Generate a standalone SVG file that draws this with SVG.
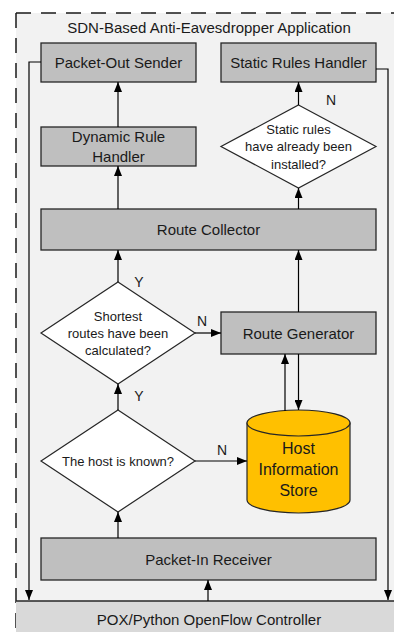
<svg xmlns="http://www.w3.org/2000/svg" width="394" height="632" viewBox="0 0 394 632">
  <defs>
    <marker id="arrow" markerUnits="userSpaceOnUse" markerWidth="10" markerHeight="8" refX="10" refY="4" orient="auto">
      <path d="M0,0 L10,4 L0,8 Z" fill="#000"/>
    </marker>
    <style>
      text { font-family: "Liberation Sans", Arial, sans-serif; fill: #1a1a1a; text-anchor: middle; }
      .box { fill: #bfbfbf; stroke: #262626; stroke-width: 1.3; }
      .dia { fill: #ffffff; stroke: #262626; stroke-width: 1.2; }
      .lbl { font-size: 15px; }
      .small { font-size: 13px; }
      .yn { font-size: 14px; }
      .wire { fill: none; stroke: #000; stroke-width: 1.2; marker-end: url(#arrow); }
    </style>
  </defs>

  <!-- application boundary -->
  <rect x="16" y="13" width="378" height="619" fill="#f2f2f2"/>
  <path d="M16,13 H394 M16,13 V632" fill="none" stroke="#1a1a1a" stroke-width="1.5" stroke-dasharray="15,10"/>
  <text x="209" y="33" class="lbl">SDN-Based Anti-Eavesdropper Application</text>

  <!-- controller -->
  <g id="controller">
    <rect x="16" y="601" width="378" height="31" fill="#d9d9d9"/>
    <line x1="16" y1="601" x2="394" y2="601" stroke="#262626" stroke-width="1.3"/>
    <text x="209" y="625" class="lbl">POX/Python OpenFlow Controller</text>
  </g>

  <g id="packet-out-sender">
    <rect x="41" y="43" width="155" height="39" class="box"/>
    <text x="118.5" y="67.5" class="lbl">Packet-Out Sender</text>
  </g>

  <g id="static-rules-handler">
    <rect x="221" y="43" width="155" height="39" class="box"/>
    <text x="298.5" y="67.5" class="lbl">Static Rules Handler</text>
  </g>

  <g id="dynamic-rule-handler">
    <rect x="41" y="127" width="155" height="39" class="box"/>
    <text x="118.5" y="142" class="lbl">Dynamic Rule</text>
    <text x="118.5" y="162" class="lbl">Handler</text>
  </g>

  <g id="static-rules-check">
    <polygon points="298.5,105 376,146.5 298.5,188 221,146.5" class="dia"/>
    <text x="298.5" y="134" class="small">Static rules</text>
    <text x="298.5" y="151" class="small">have already been</text>
    <text x="298.5" y="169" class="small">installed?</text>
  </g>

  <g id="route-collector">
    <rect x="41" y="209" width="335" height="41" class="box"/>
    <text x="208.5" y="235" class="lbl">Route Collector</text>
  </g>

  <g id="routes-check">
    <polygon points="118,282 195,333 118,384 41,333" class="dia"/>
    <text x="118" y="321" class="small">Shortest</text>
    <text x="118" y="338" class="small">routes have been</text>
    <text x="118" y="355" class="small">calculated?</text>
  </g>

  <g id="route-generator">
    <rect x="221" y="312" width="155" height="42" class="box"/>
    <text x="298.5" y="338.5" class="lbl">Route Generator</text>
  </g>

  <g id="host-check">
    <polygon points="118,410 195,461 118,512 41,461" class="dia"/>
    <text x="118" y="466" class="small">The host is known?</text>
  </g>

  <g id="host-information-store">
    <path d="M247,423 V500 A51.5,13 0 0 0 350,500 V423 Z" fill="#ffc000" stroke="#262626" stroke-width="1.2"/>
    <ellipse cx="298.5" cy="423" rx="51.5" ry="13" fill="#ffc000" stroke="#262626" stroke-width="1.2"/>
    <text x="298.5" y="454" font-size="16px">Host</text>
    <text x="298.5" y="475" font-size="16px">Information</text>
    <text x="298.5" y="496" font-size="16px">Store</text>
  </g>

  <g id="packet-in-receiver">
    <rect x="41" y="538" width="335" height="42" class="box"/>
    <text x="208.5" y="564.5" class="lbl">Packet-In Receiver</text>
  </g>

  <!-- connectors -->
  <g id="connectors">
    <polyline points="41,62 29,62 29,600" class="wire"/>
    <polyline points="376,69 388,69 388,600" class="wire"/>
    <line x1="118" y1="127" x2="118" y2="82" class="wire"/>
    <line x1="118" y1="209" x2="118" y2="166" class="wire"/>
    <line x1="298.5" y1="209" x2="298.5" y2="188" class="wire"/>
    <line x1="298.5" y1="105" x2="298.5" y2="82" class="wire"/>
    <line x1="118" y1="282" x2="118" y2="250" class="wire"/>
    <line x1="195" y1="333" x2="221" y2="333" class="wire"/>
    <line x1="298.5" y1="312" x2="298.5" y2="250" class="wire"/>
    <line x1="285" y1="411" x2="285" y2="354" class="wire"/>
    <line x1="298.5" y1="354" x2="298.5" y2="410" class="wire"/>
    <line x1="118" y1="410" x2="118" y2="384" class="wire"/>
    <line x1="195" y1="461" x2="247" y2="461" class="wire"/>
    <line x1="118" y1="538" x2="118" y2="512" class="wire"/>
    <line x1="208" y1="601" x2="208" y2="580" class="wire"/>

    <text x="331" y="105" class="yn">N</text>
    <text x="139" y="287" class="yn">Y</text>
    <text x="202" y="326" class="yn">N</text>
    <text x="139" y="401" class="yn">Y</text>
    <text x="222" y="455" class="yn">N</text>
  </g>
</svg>
